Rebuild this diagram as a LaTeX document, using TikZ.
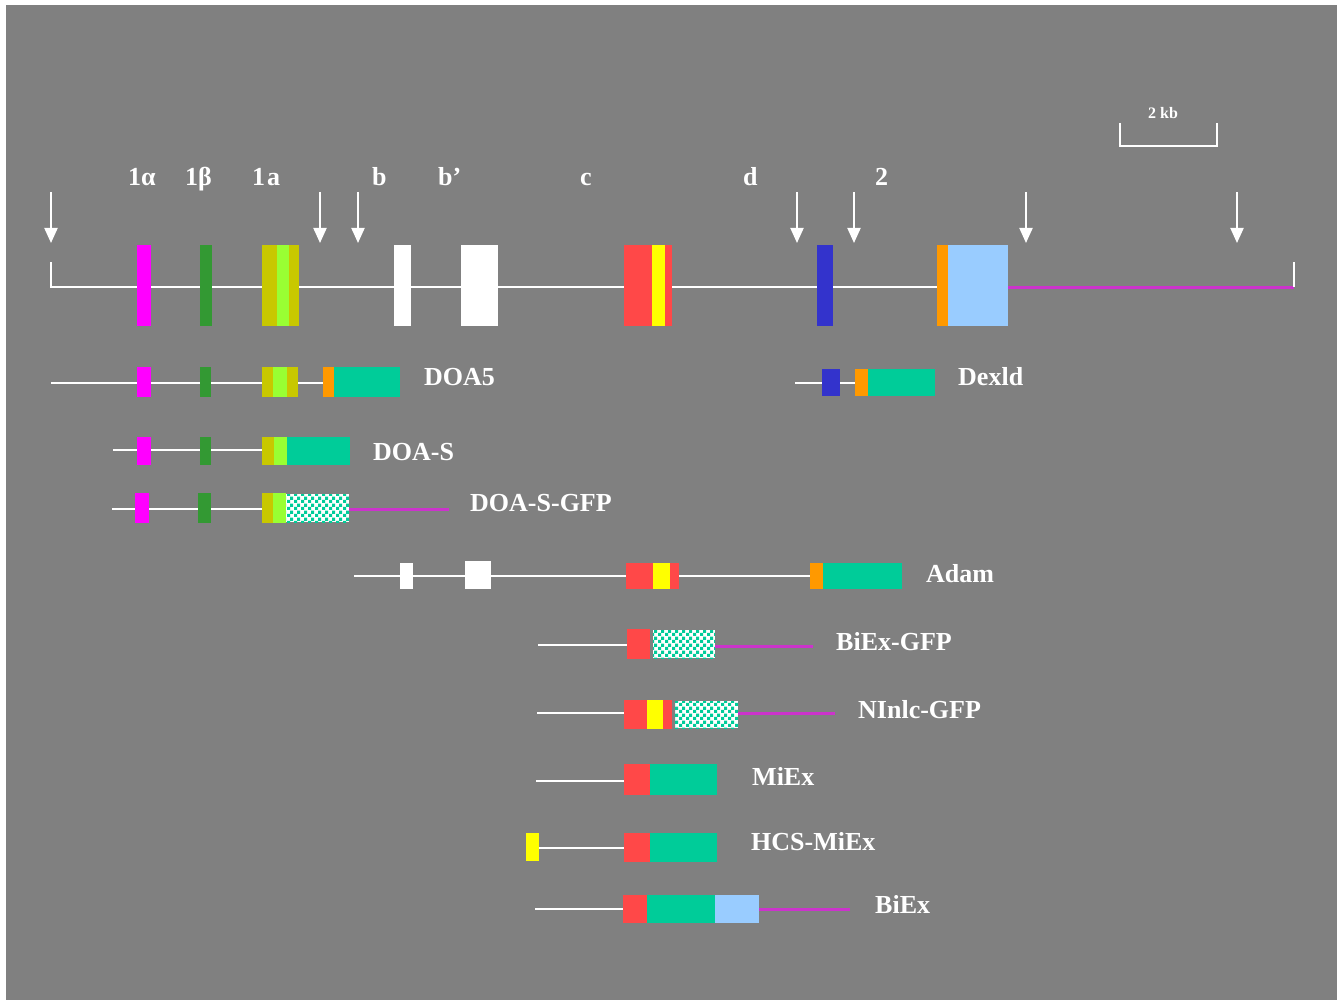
\documentclass[tikz,border=0pt]{standalone}
\usepackage{fontspec}
\setmainfont{Liberation Serif}
\usetikzlibrary{arrows.meta,patterns.meta}
\definecolor{bg}{HTML}{808080}
\definecolor{exmag}{HTML}{FF00FF}
\definecolor{exgreen}{HTML}{339933}
\definecolor{exolive}{HTML}{C8C800}
\definecolor{exlgreen}{HTML}{99FF33}
\definecolor{exred}{HTML}{FF4848}
\definecolor{exyellow}{HTML}{FFFF00}
\definecolor{exblue}{HTML}{3333CC}
\definecolor{exorange}{HTML}{FF9900}
\definecolor{exlblue}{HTML}{99CCFF}
\definecolor{exteal}{HTML}{00CC99}
\definecolor{tailmag}{HTML}{CC33CC}
\pgfdeclarepattern{name=gfpcheck, type=uncolored,
  bottom left=\pgfpointorigin, top right={\pgfqpoint{7pt}{7pt}},
  tile size={\pgfqpoint{7pt}{7pt}},
  code={\pgfpathrectangle{\pgfpointorigin}{\pgfqpoint{3.5pt}{3.5pt}}%
        \pgfpathrectangle{\pgfqpoint{3.5pt}{3.5pt}}{\pgfqpoint{3.5pt}{3.5pt}}%
        \pgfusepath{fill}}}
\newcommand\exbox[5]{\fill[#5] (#1,#3) rectangle (#2,#4);}
\newcommand\gfpbox[4]{\fill[white] (#1,#3) rectangle (#2,#4);
  \fill[pattern=gfpcheck,pattern color=exteal] (#1,#3) rectangle (#2,#4);}
\tikzset{
  wline/.style={draw=white,line width=2.5pt},
  mline/.style={draw=tailmag,line width=3pt},
  cutarrow/.style={draw=white,line width=2pt,-{Triangle[width=13pt,length=15pt]}},
  lbl/.style={text=white,font=\bfseries\fontsize{26}{26}\selectfont,anchor=base west,inner sep=0pt},
  small/.style={text=white,font=\bfseries\fontsize{16}{16}\selectfont,anchor=base,inner sep=0pt}
}
\begin{document}
\begin{tikzpicture}[x=1pt,y=-1pt]
\useasboundingbox (0,0) rectangle (1337,1000);
\fill[white] (0,0) rectangle (1337,1000);
\fill[bg] (6,5) rectangle (1337,1000);

% scale bar
\draw[white,line width=1.5pt] (1120,123) -- (1120,146) -- (1217,146) -- (1217,123);
\node[small] (kb) at (1163,119) {2 kb};

% exon labels
\node[lbl] (l1al) at (128,186) {1α};
\node[lbl] (l1be) at (185,186) {1β};
\node[lbl] (l1a) at (252,186) {1\kern2pt a};
\node[lbl] (lb) at (372,186) {b};
\node[lbl] (lbp) at (438,186) {b’};
\node[lbl] (lc) at (580,186) {c};
\node[lbl] (ld) at (743,186) {d};
\node[lbl] (l2) at (875,186) {2};

% arrows
\foreach \x in {51,320,358,797,854,1026,1237}
  \draw[cutarrow] (\x,192) -- (\x,243);

% main gene
\draw[wline] (51,262) -- (51,287) -- (1008,287);
\draw[mline] (1008,287) -- (1294,287);
\draw[wline] (1294,262) -- (1294,287);
\exbox{137}{151}{245}{326}{exmag}
\exbox{200}{212}{245}{326}{exgreen}
\exbox{262}{299}{245}{326}{exolive}
\exbox{277}{289}{245}{326}{exlgreen}
\exbox{394}{411}{245}{326}{white}
\exbox{461}{498}{245}{326}{white}
\exbox{624}{672}{245}{326}{exred}
\exbox{652}{665}{245}{326}{exyellow}
\exbox{817}{833}{245}{326}{exblue}
\exbox{937}{948}{245}{326}{exorange}
\exbox{948}{1008}{245}{326}{exlblue}

% DOA5
\draw[wline] (51,383) -- (323,383);
\exbox{137}{151}{367}{397}{exmag}
\exbox{200}{211}{367}{397}{exgreen}
\exbox{262}{298}{367}{397}{exolive}
\exbox{273}{287}{367}{397}{exlgreen}
\exbox{323}{334}{367}{397}{exorange}
\exbox{334}{400}{367}{397}{exteal}
\node[lbl] (doa5) at (424,385) {DOA5};

% Dexld
\draw[wline] (795,383) -- (855,383);
\exbox{822}{840}{369}{396}{exblue}
\exbox{855}{868}{369}{396}{exorange}
\exbox{868}{935}{369}{396}{exteal}
\node[lbl] (dexld) at (958,385) {Dexld};

% DOA-S
\draw[wline] (113,450) -- (262,450);
\exbox{137}{151}{437}{465}{exmag}
\exbox{200}{211}{437}{465}{exgreen}
\exbox{262}{274}{437}{465}{exolive}
\exbox{274}{287}{437}{465}{exlgreen}
\exbox{287}{350}{437}{465}{exteal}
\node[lbl] (doas) at (373,460) {DOA-S};

% DOA-S-GFP
\draw[wline] (112,509) -- (262,509);
\exbox{135}{149}{493}{523}{exmag}
\exbox{198}{211}{493}{523}{exgreen}
\exbox{262}{273}{493}{523}{exolive}
\exbox{273}{286}{493}{523}{exlgreen}
\gfpbox{286}{349}{494}{522}
\draw[mline] (349,509) -- (449,509);
\node[lbl] (doasgfp) at (470,511) {DOA-S-GFP};

% Adam
\draw[wline] (354,576) -- (810,576);
\exbox{400}{413}{563}{589}{white}
\exbox{465}{491}{561}{589}{white}
\exbox{626}{679}{563}{589}{exred}
\exbox{653}{670}{563}{589}{exyellow}
\exbox{810}{823}{563}{589}{exorange}
\exbox{823}{902}{563}{589}{exteal}
\node[lbl] (adam) at (926,582) {Adam};

% BiEx-GFP
\draw[wline] (538,645) -- (627,645);
\exbox{627}{650}{629}{659}{exred}
\gfpbox{653}{715}{630}{658}
\draw[mline] (715,646) -- (813,646);
\node[lbl] (biexgfp) at (836,650) {BiEx-GFP};

% NInlc-GFP
\draw[wline] (537,713) -- (624,713);
\exbox{624}{672}{700}{729}{exred}
\exbox{647}{663}{700}{729}{exyellow}
\gfpbox{675}{738}{701}{728}
\draw[mline] (738,713) -- (835,713);
\node[lbl] (ninlcgfp) at (858,718) {NInlc-GFP};

% MiEx
\draw[wline] (536,781) -- (624,781);
\exbox{624}{650}{764}{795}{exred}
\exbox{650}{717}{764}{795}{exteal}
\node[lbl] (miex) at (752,785) {MiEx};

% HCS-MiEx
\exbox{526}{539}{833}{861}{exyellow}
\draw[wline] (539,848) -- (624,848);
\exbox{624}{650}{833}{862}{exred}
\exbox{650}{717}{833}{862}{exteal}
\node[lbl] (hcsmiex) at (751,850) {HCS-MiEx};

% BiEx
\draw[wline] (535,909) -- (623,909);
\exbox{623}{647}{895}{923}{exred}
\exbox{647}{715}{895}{923}{exteal}
\exbox{715}{759}{895}{923}{exlblue}
\draw[mline] (759,909) -- (850,909);
\node[lbl] (biex) at (875,913) {BiEx};
\end{tikzpicture}
\end{document}
